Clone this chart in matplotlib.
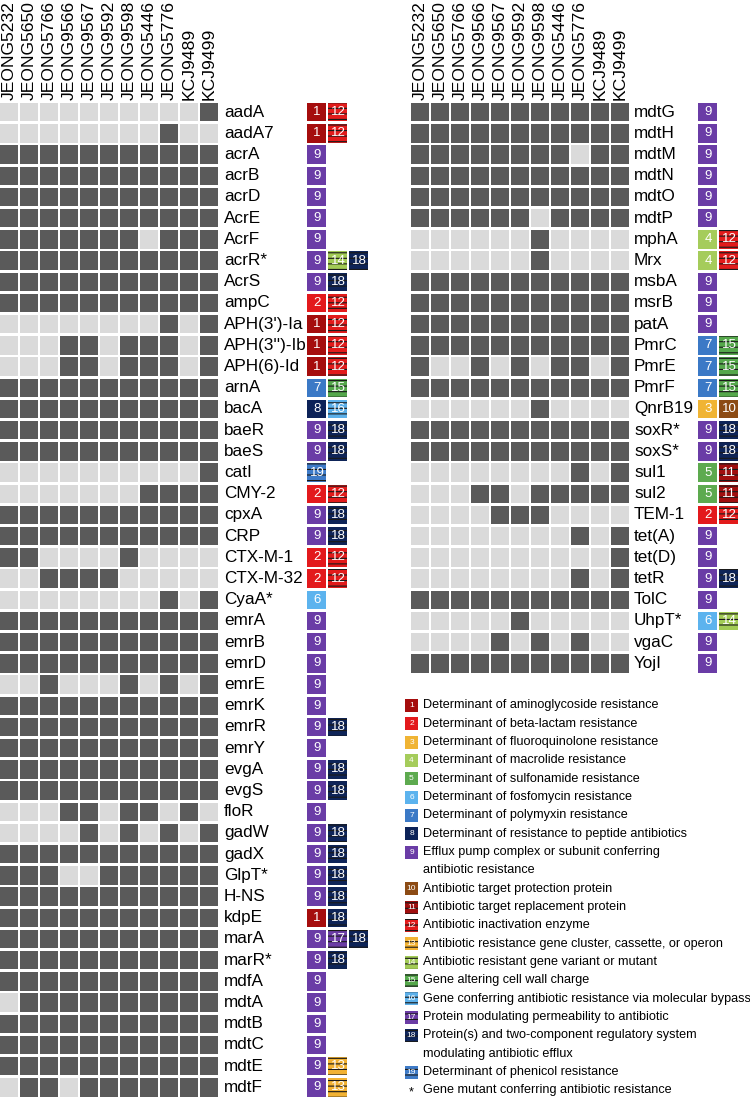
import matplotlib.pyplot as plt
from matplotlib.patches import Rectangle

plt.rcParams['font.family'] = ['Liberation Sans', 'DejaVu Sans']
plt.rcParams['hatch.linewidth'] = 0.8

# strains (columns)
strains = ['JEONG5232', 'JEONG5650', 'JEONG5766', 'JEONG9566', 'JEONG9567', 'JEONG9592',
           'JEONG9598', 'JEONG5446', 'JEONG5776', 'KCJ9489', 'KCJ9499']

# left panel
genes_left = ['aadA', 'aadA7', 'acrA', 'acrB', 'acrD', 'AcrE', 'AcrF', 'acrR*', 'AcrS', 'ampC',
              "APH(3')-Ia", "APH(3'')-Ib", 'APH(6)-Id', 'arnA', 'bacA', 'baeR', 'baeS', 'catI',
              'CMY-2', 'cpxA', 'CRP', 'CTX-M-1', 'CTX-M-32', 'CyaA*', 'emrA', 'emrB', 'emrD',
              'emrE', 'emrK', 'emrR', 'emrY', 'evgA', 'evgS', 'floR', 'gadW', 'gadX', 'GlpT*',
              'H-NS', 'kdpE', 'marA', 'marR*', 'mdfA', 'mdtA', 'mdtB', 'mdtC', 'mdtE', 'mdtF']
presence_left = ['00000000001', '00000000100', '11111111111', '11111111111', '11111111111',
                 '11111111111', '11111110111', '11111111111', '11111111111', '11111111111',
                 '00000000101', '00011011101', '00011011101', '11111111111', '11111111111',
                 '11111111111', '11111111111', '00000000001', '00000001111', '11111111111',
                 '11111111111', '11000010000', '00111100000', '00000000101', '11111111111',
                 '11111111111', '11111111111', '00100010101', '11111111111', '11111111111',
                 '11111111111', '11111111111', '11111111111', '00011011010', '00001010101',
                 '11111111111', '11100111111', '11111111111', '11111111111', '11111111111',
                 '11111111111', '11111111111', '01111111111', '11111111111', '11111111111',
                 '11111111111', '01101111111']
classes_left = [[1, 12], [1, 12], [9], [9], [9], [9], [9], [9, 14, 18], [9, 18], [2, 12],
                [1, 12], [1, 12], [1, 12], [7, 15], [8, 16], [9, 18], [9, 18], [19], [2, 12],
                [9, 18], [9, 18], [2, 12], [2, 12], [6], [9], [9], [9], [9], [9], [9, 18], [9],
                [9, 18], [9, 18], [9], [9, 18], [9, 18], [9, 18], [9, 18], [1, 18], [9, 17, 18],
                [9, 18], [9], [9], [9], [9], [9, 13], [9, 13]]

# right panel
genes_right = ['mdtG', 'mdtH', 'mdtM', 'mdtN', 'mdtO', 'mdtP', 'mphA', 'Mrx', 'msbA', 'msrB',
               'patA', 'PmrC', 'PmrE', 'PmrF', 'QnrB19', 'soxR*', 'soxS*', 'sul1', 'sul2',
               'TEM-1', 'tet(A)', 'tet(D)', 'tetR', 'TolC', 'UhpT*', 'vgaC', 'YojI']
presence_right = ['11111111111', '11111111111', '11111111011', '11111111111', '11111111111',
                  '11111101111', '00000010000', '00000010000', '11111111111', '11111111111',
                  '11111111111', '11111111111', '10010101101', '11111111111', '00000010000',
                  '11111111111', '11111111111', '00000000101', '00011011111', '00001110000',
                  '00000000101', '00000000001', '00000000101', '11111111111', '00000100000',
                  '00001010100', '11111111111']
classes_right = [[9], [9], [9], [9], [9], [9], [4, 12], [4, 12], [9], [9], [9], [7, 15],
                 [7, 15], [7, 15], [3, 10], [9, 18], [9, 18], [5, 11], [5, 11], [2, 12], [9],
                 [9], [9, 18], [9], [6, 14], [9], [9]]

# legend
legend_labels = {
    1: 'Determinant of aminoglycoside resistance',
    2: 'Determinant of beta-lactam resistance',
    3: 'Determinant of fluoroquinolone resistance',
    4: 'Determinant of macrolide resistance',
    5: 'Determinant of sulfonamide resistance',
    6: 'Determinant of fosfomycin resistance',
    7: 'Determinant of polymyxin resistance',
    8: 'Determinant of resistance to peptide antibiotics',
    9: 'Efflux pump complex or subunit conferring\nantibiotic resistance',
    10: 'Antibiotic target protection protein',
    11: 'Antibiotic target replacement protein',
    12: 'Antibiotic inactivation enzyme',
    13: 'Antibiotic resistance gene cluster, cassette, or operon',
    14: 'Antibiotic resistant gene variant or mutant',
    15: 'Gene altering cell wall charge',
    16: 'Gene conferring antibiotic resistance via molecular bypass',
    17: 'Protein modulating permeability to antibiotic',
    18: 'Protein(s) and two-component regulatory system\nmodulating antibiotic efflux',
    19: 'Determinant of phenicol resistance',
}
mutant_note = 'Gene mutant conferring antibiotic resistance'

class_colors = {1: '#a50d0d', 2: '#e3191c', 3: '#f0b434', 4: '#a5cc5b', 5: '#5daa4f',
                6: '#5cb3ee', 7: '#3b79c6', 8: '#0c2258', 9: '#6a3ca6', 10: '#8c4b14',
                11: '#a00e0e', 12: '#e21b1b', 13: '#f2b233', 14: '#a2cb55', 15: '#55a84b',
                16: '#5cb0ea', 17: '#6b3ca5', 18: '#0e2458', 19: '#3e7bc8'}
striped = range(11, 20)

dark, light = '#5a5a5a', '#dadada'
W, H = 750, 1102
colw, rowh, top = 20, 21.2, 103

fig = plt.figure(figsize=(7.5, 11.02), dpi=100)


def px_axes(x0, y0, w, h):
    ax = fig.add_axes([x0 / W, 1 - (y0 + h) / H, w / W, h / H])
    ax.axis('off')
    return ax


def badge(ax, x, y, w, h, c, fs):
    ax.add_patch(Rectangle((x, y), w, h, facecolor=class_colors[c],
                           edgecolor='#1a1a1a' if c in striped else class_colors[c],
                           hatch='---' if c in striped else None, lw=0))
    ax.text(x + w / 2, y + h / 2, str(c), color='white', fontsize=fs,
            ha='center', va='center')


def draw_panel(x0, width, genes, presence, classes, label_x, badge_x):
    n = len(genes)
    ax = px_axes(x0, top, width, n * rowh)
    ax.set_xlim(0, width / colw)
    ax.set_ylim(n, 0)
    for i, g in enumerate(genes):
        for j, v in enumerate(presence[i]):
            ax.add_patch(Rectangle((j, i), 0.915, 0.865, lw=0,
                                   facecolor=dark if v == '1' else light))
        ax.text(label_x, i + 0.43, g, fontsize=12.3, va='center', ha='left')
        for k, c in enumerate(classes[i]):
            badge(ax, badge_x + k * 1.05, i, 0.95, 0.865, c, 9.5)
    for j, s in enumerate(strains):
        ax.text(j + 0.47, -0.12, s, rotation=90, ha='center', va='bottom',
                fontsize=12.6, clip_on=False)


draw_panel(0, 375, genes_left, presence_left, classes_left, 11.2, 15.37)
draw_panel(411, 339, genes_right, presence_right, classes_right, 11.15, 14.37)

# legend block
lg = px_axes(395, 690, 355, 412)
lg.set_xlim(395, 750)
lg.set_ylim(1102, 690)
line = 0
pitch = 18.33
for c, txt in legend_labels.items():
    yc = 705.5 + line * pitch
    badge(lg, 405, yc - 6.5, 13, 13, c, 6)
    for part in txt.split('\n'):
        lg.text(423, 705.5 + line * pitch, part, fontsize=9.1, va='center', ha='left')
        line += 1
yc = 705.5 + line * pitch
lg.text(411.5, yc + 2, '*', fontsize=9.1, va='center', ha='center')
lg.text(423, yc, mutant_note, fontsize=9.1, va='center', ha='left')

fig.savefig('out.png', dpi=100)
